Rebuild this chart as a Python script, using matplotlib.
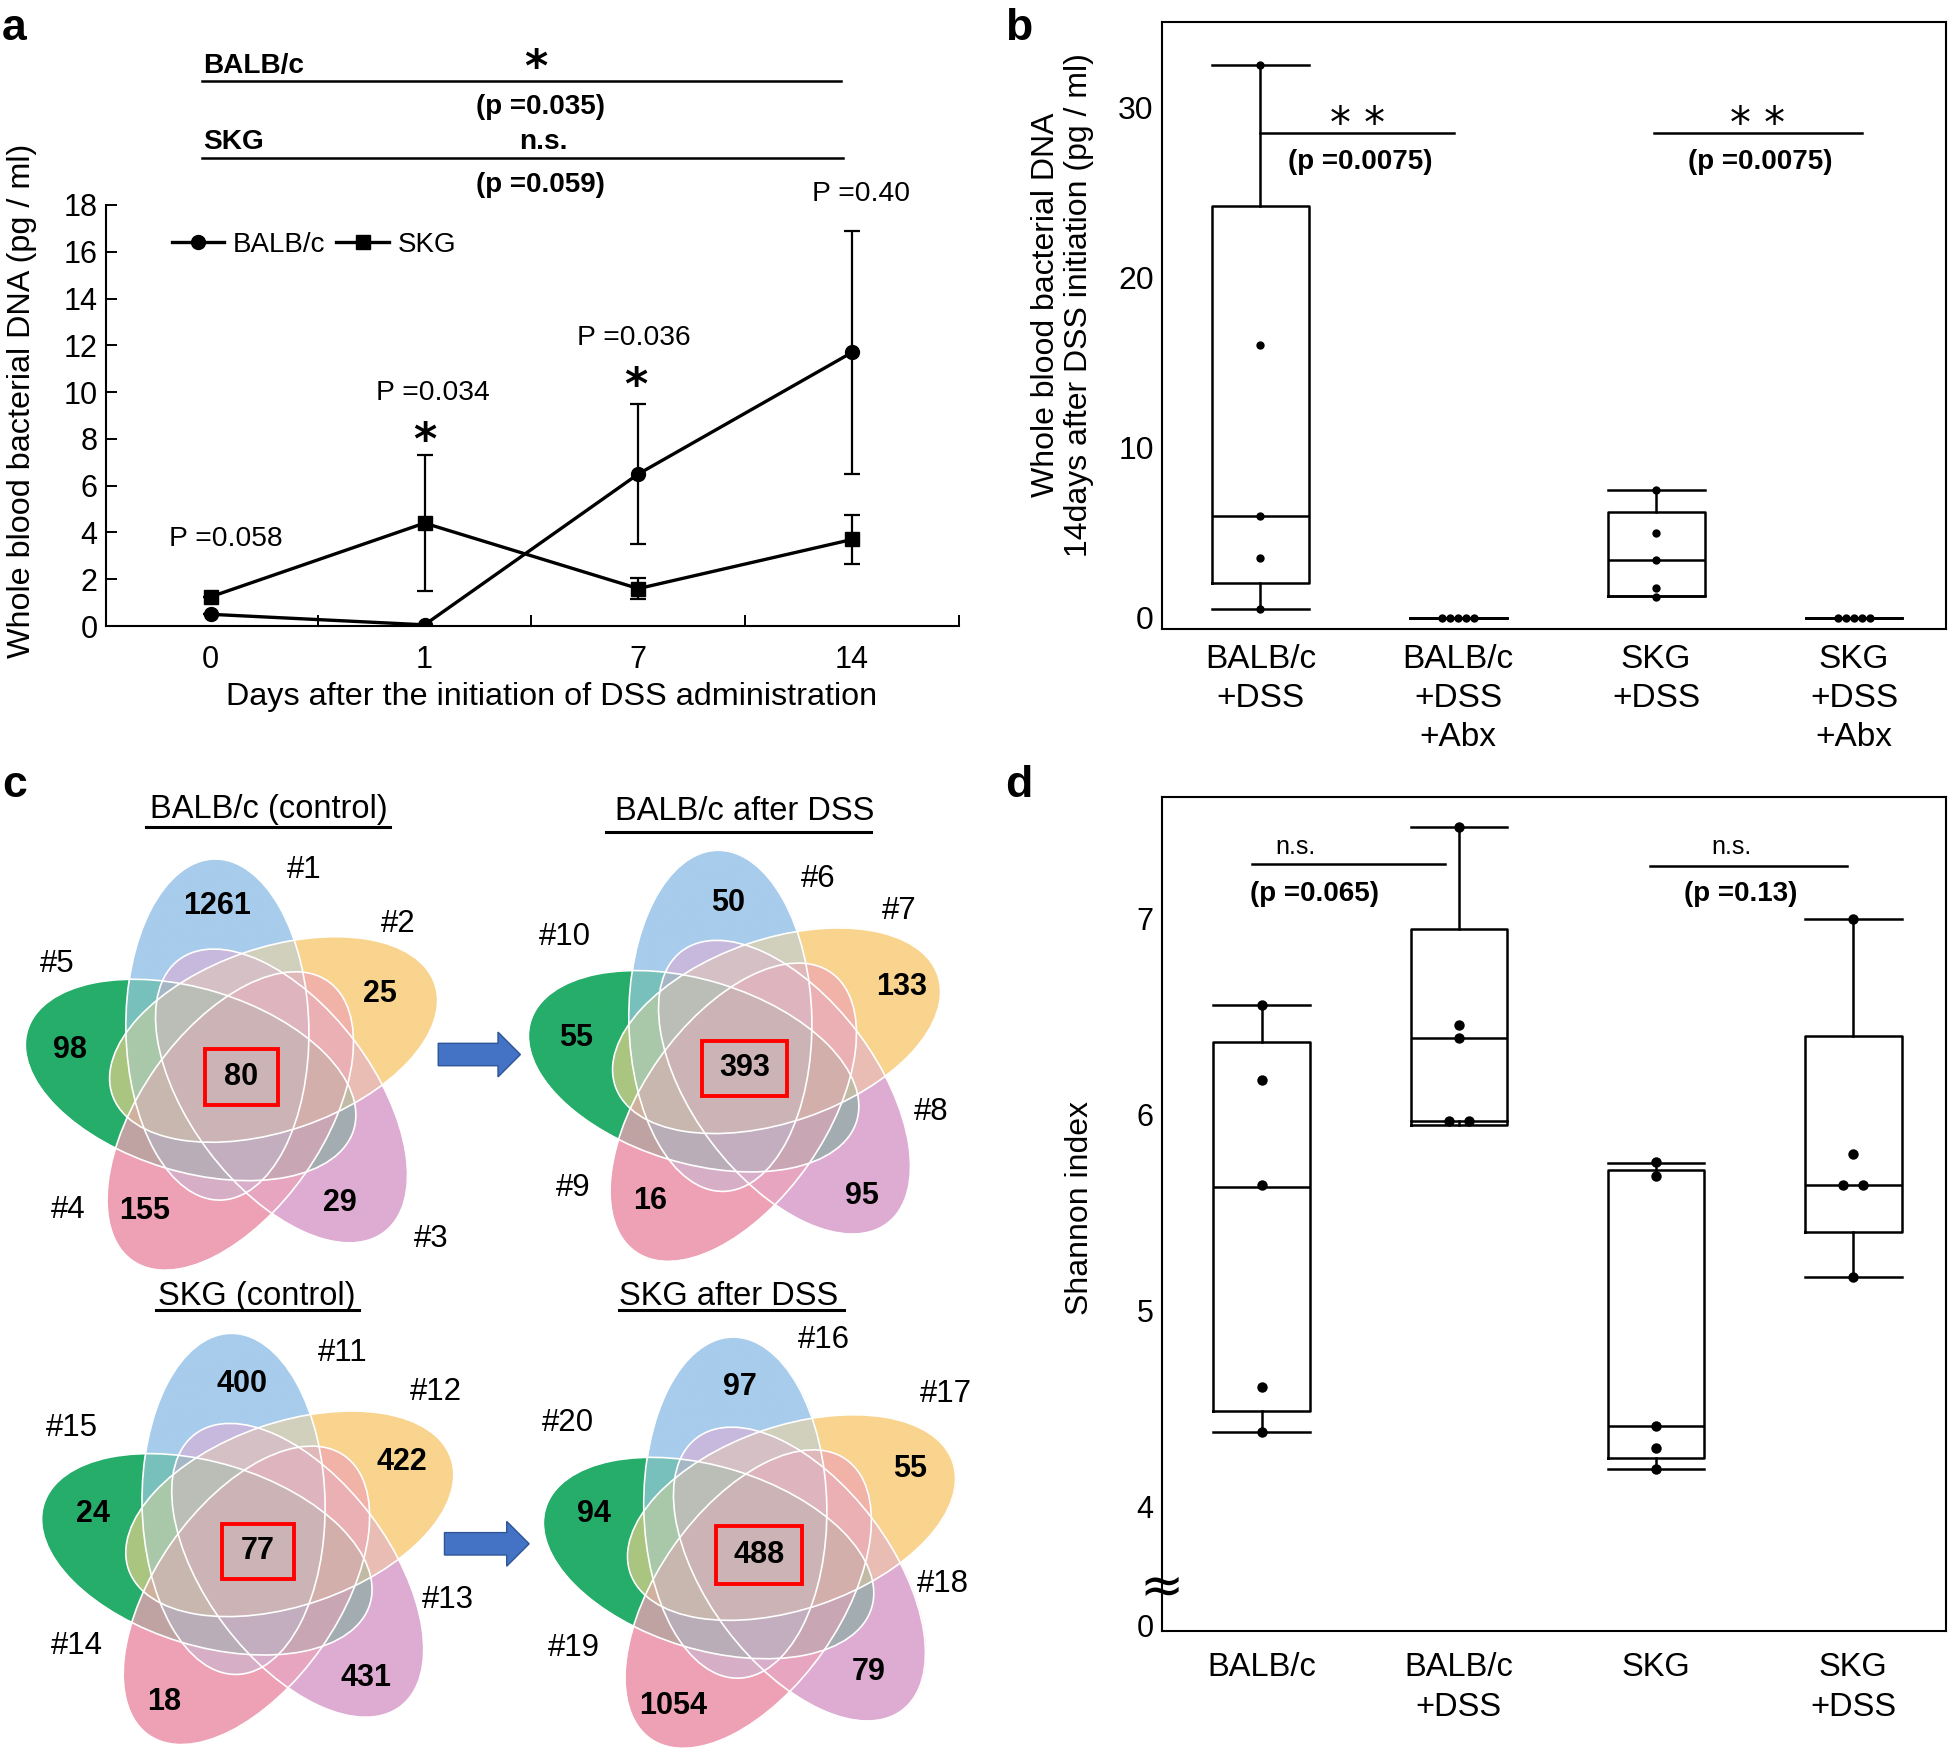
import numpy as np
import matplotlib
matplotlib.use('Agg')
import matplotlib.pyplot as plt
from matplotlib.patches import Ellipse, Rectangle, FancyArrow
from matplotlib.lines import Line2D
import matplotlib.transforms as mtransforms

plt.rcParams['font.family'] = ['Liberation Sans', 'DejaVu Sans']

# ---------------- data: panel a ----------------
day_labels = ['0', '1', '7', '14']
balb_mean = [0.5, 0.05, 6.5, 11.7]
balb_err = [0.0, 0.0, 3.0, 5.2]
skg_mean = [1.25, 4.4, 1.6, 3.7]
skg_err = [0.0, 2.9, 0.45, 1.05]
a_pvalues = ['P =0.058', 'P =0.034', 'P =0.036', 'P =0.40']

# ---------------- data: panel b ----------------
b_groups = ['BALB/c\n+DSS', 'BALB/c\n+DSS\n+Abx', 'SKG\n+DSS', 'SKG\n+DSS\n+Abx']
b_whislo = [0.5, 0.0, 1.25, 0.0]
b_q1 = [2.05, 0.0, 1.25, 0.0]
b_med = [6.0, 0.0, 3.4, 0.0]
b_q3 = [24.2, 0.0, 6.2, 0.0]
b_whishi = [32.5, 0.0, 7.5, 0.0]
b_points = [[32.5, 16.0, 6.0, 3.5, 0.5], [0, 0, 0, 0, 0],
            [7.5, 5.0, 3.4, 1.75, 1.2], [0, 0, 0, 0, 0]]
b_pvals = ['(p =0.0075)', '(p =0.0075)']

# ---------------- data: panel d ----------------
d_groups = ['BALB/c', 'BALB/c\n+DSS', 'SKG', 'SKG\n+DSS']
d_whislo = [4.38, 5.97, 4.19, 5.17]
d_q1 = [4.49, 5.95, 4.245, 5.40]
d_med = [5.63, 6.39, 4.41, 5.64]
d_q3 = [6.37, 6.95, 5.72, 6.40]
d_whishi = [6.56, 7.47, 5.756, 7.0]
d_points = [[6.56, 6.18, 5.64, 4.61, 4.38], [7.47, 6.46, 6.39, 5.97, 5.97],
            [5.76, 5.69, 4.41, 4.30, 4.19], [7.0, 5.80, 5.64, 5.64, 5.17]]
d_pvals = ['(p =0.065)', '(p =0.13)']
d_ticks = [4, 5, 6, 7]

# ---------------- data: panel c ----------------
venn_titles = ['BALB/c (control)', 'BALB/c after DSS', 'SKG (control)', 'SKG after DSS']
venn_setnames = [['#1', '#2', '#3', '#4', '#5'], ['#6', '#7', '#8', '#9', '#10'],
                 ['#11', '#12', '#13', '#14', '#15'], ['#16', '#17', '#18', '#19', '#20']]
venn_unique = [[1261, 25, 29, 155, 98], [50, 133, 95, 16, 55],
               [400, 422, 431, 18, 24], [97, 55, 79, 1054, 94]]
venn_core = [80, 393, 77, 488]

W, H = 1952, 1752
fig = plt.figure(figsize=(W / 100, H / 100), dpi=100)

def frac_rect(x0, y0, x1, y1):
    return [x0 / W, 1 - y1 / H, (x1 - x0) / W, (y1 - y0) / H]

LW = 1.8

# ======================= panel a =======================
ax = fig.add_axes(frac_rect(106, 205, 959, 626))
x = np.arange(len(day_labels))
ax.errorbar(x, balb_mean, yerr=balb_err, fmt='-o', color='k', lw=2.4, ms=10,
            capsize=6, elinewidth=1.6, capthick=1.6, zorder=3)
ax.errorbar(x, skg_mean, yerr=skg_err, fmt='-s', color='k', lw=2.4, ms=10,
            capsize=6, elinewidth=1.6, capthick=1.6, zorder=3)
ax.set_yticks(np.arange(0, 19, 2))
ax.set_xticks(x)
ax.set_xticklabels(day_labels)
ax.set_xticks([0.5, 1.5, 2.5, 3.5], minor=True)
ax.tick_params(axis='y', direction='in', length=8, width=1.4, labelsize=22, pad=6)
ax.tick_params(axis='x', which='major', length=0, labelsize=22, pad=14)
ax.tick_params(axis='x', which='minor', direction='in', length=8, width=1.4)
for s in ['top', 'right']:
    ax.spines[s].set_visible(False)
for s in ['left', 'bottom']:
    ax.spines[s].set_linewidth(1.5)
ax.text(0.522, -0.169, 'Days after the initiation of DSS administration', transform=ax.transAxes,
        ha='center', va='center', fontsize=23.3)
ax.text(-0.098, 0.535, 'Whole blood bacterial DNA (pg / ml)', transform=ax.transAxes,
        ha='center', va='center', rotation=90, fontsize=23.3)
hb = Line2D([], [], color='k', marker='o', lw=2.4, ms=10)
hs = Line2D([], [], color='k', marker='s', lw=2.4, ms=10)
ax.legend([hb, hs], ['BALB/c', 'SKG'], ncol=2, loc='center left', bbox_to_anchor=(0.077, 0.905),
          frameon=False, fontsize=20, handlelength=1.9, handletextpad=0.3, columnspacing=0.4,
          borderaxespad=0, borderpad=0)
pv_pos = [(0.07, 3.73), (1.037, 9.96), (1.98, 12.3), (3.04, 18.48)]
for (px, py), t in zip(pv_pos, a_pvalues):
    ax.text(px, py, t, ha='center', va='center', fontsize=20.3, clip_on=False)
for px, py in [(1.0, 8.79), (1.99, 11.18)]:
    ax.text(px, py, '*', ha='center', va='top', fontsize=32, fontweight='bold',
            family='DejaVu Sans', clip_on=False)
# group comparison brackets above the plot
ax.text(-0.035, 23.64, 'BALB/c', ha='left', va='baseline', fontsize=20.2, fontweight='bold', clip_on=False)
ax.text(1.52, 24.76, '*', ha='center', va='top', fontsize=32, fontweight='bold',
        family='DejaVu Sans', clip_on=False)
ax.plot([-0.041, 2.947], [23.32, 23.32], color='k', lw=LW, clip_on=False)
ax.text(1.543, 22.2, '(p =0.035)', ha='center', va='center', fontsize=20, fontweight='bold', clip_on=False)
ax.text(-0.035, 20.39, 'SKG', ha='left', va='baseline', fontsize=20.2, fontweight='bold', clip_on=False)
ax.text(1.555, 20.39, 'n.s.', ha='center', va='baseline', fontsize=20.2, fontweight='bold', clip_on=False)
ax.plot([-0.041, 2.959], [20.02, 20.02], color='k', lw=LW, clip_on=False)
ax.text(1.543, 18.85, '(p =0.059)', ha='center', va='center', fontsize=20, fontweight='bold', clip_on=False)
ax.set_xlim(-0.49, 3.5)
ax.set_ylim(0, 18)

# ======================= box panels helper =======================
def box_panel(ax, whislo, q1, med, q3, whishi, points, offsets, ms):
    stats = []
    for i in range(len(med)):
        stats.append(dict(whislo=whislo[i], q1=q1[i], med=med[i], q3=q3[i],
                          whishi=whishi[i], fliers=[]))
    pos = np.arange(len(med))
    lp = dict(color='k', lw=LW)
    ax.bxp(stats, positions=pos, widths=0.49, capwidths=0.49, showfliers=False,
           boxprops=lp, medianprops=lp, whiskerprops=lp, capprops=lp)
    for i, pts in enumerate(points):
        ax.plot(np.full(len(pts), pos[i]) + np.array(offsets[i]), pts, 'o', color='k',
                ms=ms, mew=0, zorder=4)
    for s in ax.spines.values():
        s.set_linewidth(1.5)

# ======================= panel b =======================
axb = fig.add_axes(frac_rect(1162, 22, 1946, 629))
b_off = [[0] * 5, [-0.08, -0.04, 0, 0.04, 0.08], [0] * 5, [-0.08, -0.04, 0, 0.04, 0.08]]
box_panel(axb, b_whislo, b_q1, b_med, b_q3, b_whishi, b_points, b_off, 6)
axb.set_xlim(-0.497, 3.465)
axb.set_ylim(-0.66, 35.0)
axb.set_yticks([0, 10, 20, 30])
axb.set_xticks(range(4))
axb.set_xticklabels(b_groups, linespacing=1.33)
axb.tick_params(axis='y', length=0, labelsize=23, pad=6)
axb.tick_params(axis='x', length=0, labelsize=24, pad=11)
axb.text(-0.127, 0.534, 'Whole blood bacterial DNA\n14days after DSS initiation (pg / ml)',
         transform=axb.transAxes, ha='center', va='center', rotation=90, fontsize=23,
         linespacing=1.15)
for (x0, x1), xt, pv in zip([(0, 0.98), (1.99, 3.04)], [0.49, 2.51], b_pvals):
    axb.plot([x0, x1], [28.5, 28.5], color='k', lw=LW)
    axb.text(xt, 30.16, '* *', ha='center', va='top', fontsize=30, family='DejaVu Sans')
    axb.text(xt + 0.015, 26.8, pv, ha='center', va='center', fontsize=20, fontweight='bold')

# ======================= panel d =======================
axd = fig.add_axes(frac_rect(1162, 797, 1946, 1631))
d_off = [[0] * 5, [0, 0, 0, -0.05, 0.05], [0] * 5, [0, 0, -0.05, 0.05, 0]]
box_panel(axd, d_whislo, d_q1, d_med, d_q3, d_whishi, d_points, d_off, 7.5)
axd.set_xlim(-0.505, 3.47)
axd.set_ylim(3.364, 7.623)
axd.set_yticks([3.39] + d_ticks)
axd.set_yticklabels(['0'] + [str(t) for t in d_ticks])
axd.set_xticks(range(4))
axd.set_xticklabels(d_groups, linespacing=1.38)
axd.tick_params(axis='y', length=0, labelsize=22, pad=6)
axd.tick_params(axis='x', length=0, labelsize=23.5, pad=15)
axd.text(-0.105, 0.507, 'Shannon index', transform=axd.transAxes, ha='center', va='center',
         rotation=90, fontsize=23)
trd = mtransforms.blended_transform_factory(axd.transAxes, axd.transData)
axd.text(0.0, 3.584, '≈', transform=trd, ha='center', va='center', fontsize=38,
         family='DejaVu Sans')
for (x0, x1), yl, xn, xp, pv in zip([(-0.05, 0.93), (1.97, 2.97)], [7.28, 7.273],
                                    [0.17, 2.38], [0.27, 2.43], d_pvals):
    axd.plot([x0, x1], [yl, yl], color='k', lw=LW)
    axd.text(xn, 7.37, 'n.s.', ha='center', va='center', fontsize=18)
    axd.text(xp, 7.127, pv, ha='center', va='center', fontsize=20, fontweight='bold')

# ======================= panel c (Venn diagrams) =======================
S = 1.245
axc = fig.add_axes([0, 0, 1000 / W, 970 / H])
axc.axis('off')

venn_colors = np.array([[168, 204, 236], [249, 212, 142], [222, 172, 210],
                        [238, 161, 181], [38, 173, 106]]) / 255.0
venn_weights = [1.0, 1.0, 1.3, 2.0, 0.6]
EA, EB, ED = 137.0, 73.5, 39.0
ALPHA0, DELTA = 116.0, -25.0

def draw_venn(ax, cx, cy):
    half = 200.0
    n = 800
    xs = np.linspace(cx - half, cx + half, n)
    ys = np.linspace(cy - half, cy + half, n)
    X, Y = np.meshgrid(xs, ys)
    pix = xs[1] - xs[0]
    acc = np.zeros((n, n, 3))
    wsum = np.zeros((n, n))
    cmax = np.zeros((n, n))
    ells = []
    for k in range(5):
        ang = np.deg2rad(ALPHA0 - 72 * k)
        ex, ey = cx + ED * np.cos(ang), cy - ED * np.sin(ang)
        th = np.deg2rad(ALPHA0 - 72 * k + DELTA)
        dx, dy = X - ex, -(Y - ey)
        u = dx * np.cos(th) + dy * np.sin(th)
        v = -dx * np.sin(th) + dy * np.cos(th)
        r = np.sqrt((u / EA) ** 2 + (v / EB) ** 2)
        g = np.sqrt((u / EA ** 2) ** 2 + (v / EB ** 2) ** 2) / np.maximum(r, 1e-9)
        dist = (r - 1) / np.maximum(g, 1e-9)
        cov = np.clip(0.5 - dist / pix, 0, 1)
        acc += (cov * venn_weights[k])[..., None] * venn_colors[k]
        wsum += cov * venn_weights[k]
        cmax = np.maximum(cmax, cov)
        ells.append(Ellipse((ex, ey), 2 * EA, 2 * EB, angle=-np.degrees(th), fill=False,
                            ec='white', lw=1.2, zorder=3))
    rgb = np.where(wsum[..., None] > 0, acc / np.maximum(wsum, 1e-9)[..., None], 1.0)
    img = np.dstack([rgb, cmax])
    ax.imshow(img, extent=(cx - half, cx + half, cy + half, cy - half), origin='upper',
              aspect='auto', interpolation='bilinear', zorder=1)
    for e in ells:
        ax.add_patch(e)

box_centers = [(194, 865), (598, 858), (207, 1246), (610, 1249)]
box_sizes = [(58, 45), (69, 44), (58, 44), (69, 46)]
uniq_pos = [
    [(174, 728), (305, 798), (273, 966), (116, 973), (56, 843)],
    [(585, 725), (724, 793), (692, 961), (522, 965), (463, 834)],
    [(194, 1112), (323, 1174), (294, 1348), (132, 1367), (75, 1216)],
    [(594, 1114), (731, 1180), (698, 1343), (541, 1370), (477, 1216)],
]
set_pos = [
    [(244, 699), (320, 742), (346, 995), (55, 972), (46, 774)],
    [(657, 706), (722, 732), (748, 893), (460, 954), (454, 753)],
    [(275, 1087), (350, 1118), (360, 1285), (62, 1322), (58, 1147)],
    [(662, 1076), (760, 1120), (757, 1272), (461, 1324), (456, 1143)],
]
title_pos = [(216, 650), (598, 652), (206, 1041), (585, 1041)]
ul_pos = [(117, 313, 664), (487, 700, 668), (125, 288, 1052), (497, 678, 1052)]

for i in range(4):
    bx, by = box_centers[i]
    draw_venn(axc, bx - 2.3, by - 3.0)
    bw, bh = box_sizes[i]
    axc.add_patch(Rectangle((bx - bw / 2, by - bh / 2), bw, bh, fill=False, ec='#FF0000',
                            lw=2.8, zorder=5))
    axc.text(bx, by, str(venn_core[i]), ha='center', va='center', fontsize=22,
             fontweight='bold', zorder=6)
    for (tx, ty), val in zip(uniq_pos[i], venn_unique[i]):
        axc.text(tx, ty, str(val), ha='center', va='center', fontsize=22, fontweight='bold', zorder=6)
    for (tx, ty), nm in zip(set_pos[i], venn_setnames[i]):
        axc.text(tx, ty, nm, ha='center', va='center', fontsize=22.5, zorder=6)
    tx, ty = title_pos[i]
    axc.text(tx, ty, venn_titles[i], ha='center', va='center', fontsize=23.5, zorder=6)
    x0, x1, yu = ul_pos[i]
    axc.plot([x0, x1], [yu, yu], color='k', lw=2.2, zorder=6)

for (x0, x1, y) in [(352, 418, 847), (357, 425, 1240)]:
    axc.add_patch(FancyArrow(x0, y, x1 - x0, 0, width=18, head_width=36, head_length=18,
                             length_includes_head=True, fc='#4472C4', ec='#2F5597', lw=1, zorder=5))
axc.set_xlim(0, 1000 / S)
axc.set_ylim(H / S, (H - 970) / S)

# ======================= panel letters =======================
for lt, (lx, ly) in zip('abcd', [(2, 40), (1005, 40), (2, 797), (1005, 797)]):
    fig.text(lx / W, 1 - ly / H, lt, ha='left', va='baseline', fontsize=32, fontweight='bold')

fig.savefig('out.png', dpi=100)
